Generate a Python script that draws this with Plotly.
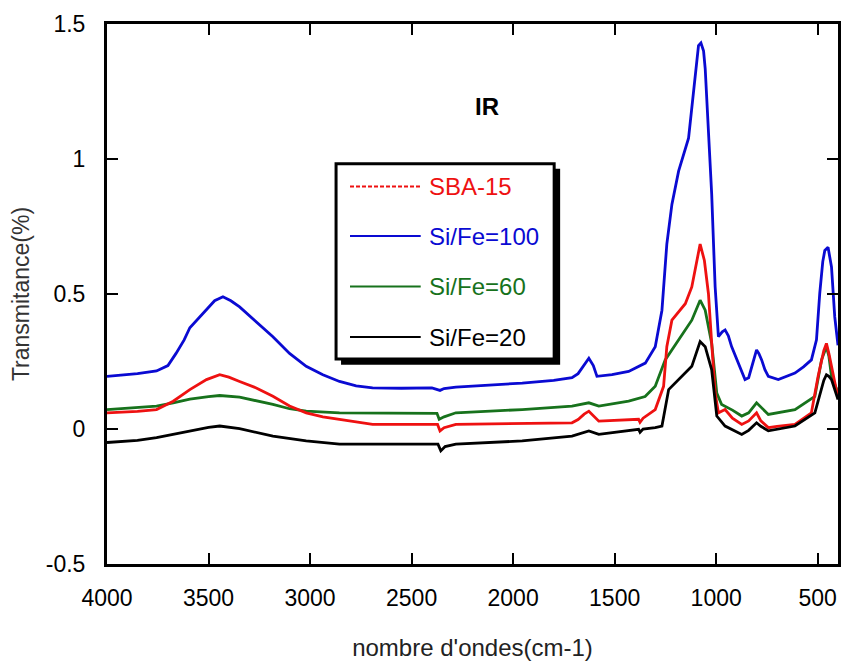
import plotly.graph_objects as go

# ---------------- data ----------------
series_names = ["SBA-15", "Si/Fe=100", "Si/Fe=60", "Si/Fe=20"]
series_colors = ["#ee1111", "#0a0ad2", "#17721c", "#000000"]

wn_sba15 = [4000, 3850, 3756, 3674, 3592, 3510, 3445, 3400, 3347, 3265, 3183, 3101, 3019, 2937, 2855,
            2692, 2450, 2372, 2360, 2340, 2282, 2000, 1710, 1680, 1650, 1627, 1600, 1578, 1382, 1375,
            1360, 1300, 1259, 1243, 1218, 1152, 1120, 1095, 1079, 1058, 1038, 1022, 1005, 989, 956,
            920, 874, 840, 801, 780, 743, 700, 612, 531, 498, 470, 457, 445, 432, 408, 400]
val_sba15 = [0.06, 0.065, 0.072, 0.103, 0.146, 0.183, 0.201, 0.192, 0.176, 0.152, 0.121, 0.085, 0.06, 0.045, 0.036,
             0.017, 0.017, 0.017, -0.007, 0.005, 0.017, 0.02, 0.023, 0.035, 0.055, 0.066, 0.045, 0.029, 0.036, 0.025,
             0.04, 0.072, 0.158, 0.305, 0.403, 0.464, 0.526, 0.624, 0.685, 0.624, 0.501, 0.317, 0.133, 0.06, 0.072,
             0.04, 0.017, 0.03, 0.06, 0.03, 0.005, 0.01, 0.017, 0.06, 0.195, 0.29, 0.317, 0.28, 0.232, 0.133, 0.115]

wn_fe100 = [4000, 3850, 3756, 3700, 3660, 3620, 3592, 3550, 3510, 3470, 3429, 3390, 3347, 3300, 3265, 3183,
            3101, 3019, 2937, 2855, 2773, 2692, 2550, 2400, 2360, 2340, 2282, 2100, 1955, 1800, 1710, 1680,
            1650, 1627, 1605, 1587, 1513, 1431, 1349, 1300, 1267, 1243, 1218, 1185, 1136, 1112, 1087, 1075,
            1062, 1054, 1038, 1022, 1013, 1005, 989, 970, 956, 940, 924, 890, 858, 840, 825, 810, 801, 790,
            776, 760, 743, 694, 650, 612, 570, 531, 506, 490, 475, 465, 449, 432, 416, 400]
val_fe100 = [0.195, 0.205, 0.215, 0.235, 0.28, 0.33, 0.375, 0.41, 0.445, 0.475, 0.49, 0.475, 0.452, 0.42, 0.397, 0.342,
             0.28, 0.232, 0.201, 0.176, 0.16, 0.152, 0.151, 0.152, 0.143, 0.15, 0.155, 0.162, 0.17, 0.18, 0.19, 0.205,
             0.24, 0.262, 0.235, 0.195, 0.201, 0.213, 0.244, 0.305, 0.44, 0.685, 0.832, 0.955, 1.077, 1.236, 1.42, 1.43,
             1.40, 1.335, 1.114, 0.869, 0.685, 0.526, 0.342, 0.36, 0.367, 0.345, 0.305, 0.24, 0.183, 0.19, 0.232, 0.275, 0.293, 0.28,
             0.256, 0.22, 0.195, 0.183, 0.195, 0.207, 0.23, 0.256, 0.33, 0.501, 0.62, 0.661, 0.673, 0.6, 0.415, 0.31]

wn_fe60 = [4000, 3850, 3756, 3674, 3592, 3500, 3445, 3347, 3260, 3183, 3101, 3019, 2855, 2450, 2375, 2364,
           2340, 2282, 1955, 1710, 1680, 1627, 1578, 1431, 1350, 1300, 1251, 1185, 1120, 1079, 1054, 1022,
           997, 973, 920, 874, 840, 801, 780, 743, 612, 514, 481, 457, 445, 432, 400]
val_fe60 = [0.072, 0.08, 0.085, 0.097, 0.111, 0.12, 0.124, 0.118, 0.105, 0.091, 0.075, 0.066, 0.06, 0.06, 0.058, 0.036,
            0.045, 0.06, 0.072, 0.085, 0.09, 0.097, 0.085, 0.103, 0.12, 0.158, 0.256, 0.33, 0.403, 0.477, 0.44, 0.317,
            0.133, 0.091, 0.07, 0.048, 0.06, 0.097, 0.08, 0.054, 0.072, 0.121, 0.256, 0.305, 0.27, 0.195, 0.135]

wn_fe20 = [4000, 3850, 3756, 3592, 3500, 3445, 3347, 3183, 3019, 2855, 2450, 2370, 2356, 2335, 2282, 1955,
           1710, 1650, 1627, 1578, 1382, 1375, 1360, 1300, 1267, 1234, 1185, 1120, 1079, 1054, 1022, 997,
           956, 874, 840, 801, 780, 743, 612, 514, 470, 457, 445, 432, 400]
val_fe20 = [-0.05, -0.042, -0.032, -0.007, 0.006, 0.011, 0.001, -0.026, -0.044, -0.056, -0.056, -0.056, -0.081, -0.065, -0.056, -0.044,
            -0.026, -0.012, -0.007, -0.02, -0.001, -0.012, 0.0, 0.005, 0.011, 0.146, 0.183, 0.232, 0.324, 0.305, 0.219, 0.048,
            0.011, -0.02, -0.005, 0.023, 0.01, -0.007, 0.011, 0.06, 0.18, 0.201, 0.195, 0.183, 0.109]

x_ticks = [4000, 3500, 3000, 2500, 2000, 1500, 1000, 500]
y_ticks = [-0.5, 0, 0.5, 1, 1.5]
y_ticktext = ["-0.5", "0", "0.5", "1", "1.5"]
x_title = "nombre d'ondes(cm-1)"
y_title = "Transmitance(%)"
chart_label = "IR"

# ---------------- figure ----------------
W, H = 845, 661
L, R, T, B = 107, 4, 24, 92
PW, PH = W - L - R, H - T - B


def px(x):
    return (x - L) / PW


def py(y):
    return (H - B - y) / PH


FONT = "Liberation Sans, Arial, sans-serif"

fig = go.Figure()
all_x = [wn_sba15, wn_fe100, wn_fe60, wn_fe20]
all_y = [val_sba15, val_fe100, val_fe60, val_fe20]
for i in [1, 2, 0, 3]:
    fig.add_trace(go.Scatter(
        x=all_x[i], y=all_y[i], mode="lines", name=series_names[i],
        line=dict(color=series_colors[i], width=2.8),
        showlegend=False,
    ))

shapes = []
annotations = []
# legend box with drop shadow
bx0, by0, bx1, by1 = 337, 165, 556, 362
shapes.append(dict(type="rect", xref="paper", yref="paper", layer="above",
                   x0=px(bx0 + 5), x1=px(bx1 + 6), y0=py(by1 + 6), y1=py(by0 + 5),
                   fillcolor="black", line=dict(width=0)))
shapes.append(dict(type="rect", xref="paper", yref="paper", layer="above",
                   x0=px(bx0), x1=px(bx1), y0=py(by1), y1=py(by0),
                   fillcolor="white", line=dict(color="black", width=3)))
leg_y = [188, 238, 289, 340]
for i, name in enumerate(series_names):
    shapes.append(dict(type="line", xref="paper", yref="paper", layer="above",
                       x0=px(351), x1=px(422), y0=py(leg_y[i]), y1=py(leg_y[i]),
                       line=dict(color=series_colors[i], width=2,
                                 dash="4px,2px" if i == 0 else "solid")))
    annotations.append(dict(xref="paper", yref="paper", x=px(428), y=py(leg_y[i]),
                            xanchor="left", yanchor="middle", showarrow=False,
                            text=name, font=dict(family=FONT, size=24, color=series_colors[i])))

annotations.append(dict(xref="paper", yref="paper", x=px(489), y=py(107),
                        xanchor="center", yanchor="middle", showarrow=False,
                        text="<b>" + chart_label + "</b>",
                        font=dict(family=FONT, size=24, color="black")))

fig.update_layout(
    width=W, height=H,
    margin=dict(l=L, r=R, t=T, b=B, pad=0),
    paper_bgcolor="white", plot_bgcolor="white",
    shapes=shapes, annotations=annotations,
    showlegend=False,
    font=dict(family=FONT, color="black"),
)
fig.update_xaxes(
    range=[4000, 400], tickvals=x_ticks, ticks="inside", ticklen=11, tickwidth=2,
    tickcolor="black", showline=True, linewidth=3, linecolor="black", mirror="ticks",
    showgrid=False, zeroline=False, ticklabelstandoff=11,
    tickfont=dict(family=FONT, size=23, color="black"),
    title=dict(text=x_title, font=dict(family=FONT, size=24, color="#222222"), standoff=30),
)
fig.update_yaxes(
    range=[-0.5, 1.5], tickvals=y_ticks, ticktext=y_ticktext, ticks="inside", ticklen=11, tickwidth=2,
    tickcolor="black", showline=True, linewidth=3, linecolor="black", mirror="ticks",
    showgrid=False, zeroline=False, ticklabelstandoff=14,
    tickfont=dict(family=FONT, size=23, color="black"),
    title=dict(text=y_title, font=dict(family=FONT, size=23, color="#333333"), standoff=10),
)

fig.write_html("out.html", config={"displayModeBar": False},
               post_script="document.body.style.margin='0';document.body.style.padding='0';")
